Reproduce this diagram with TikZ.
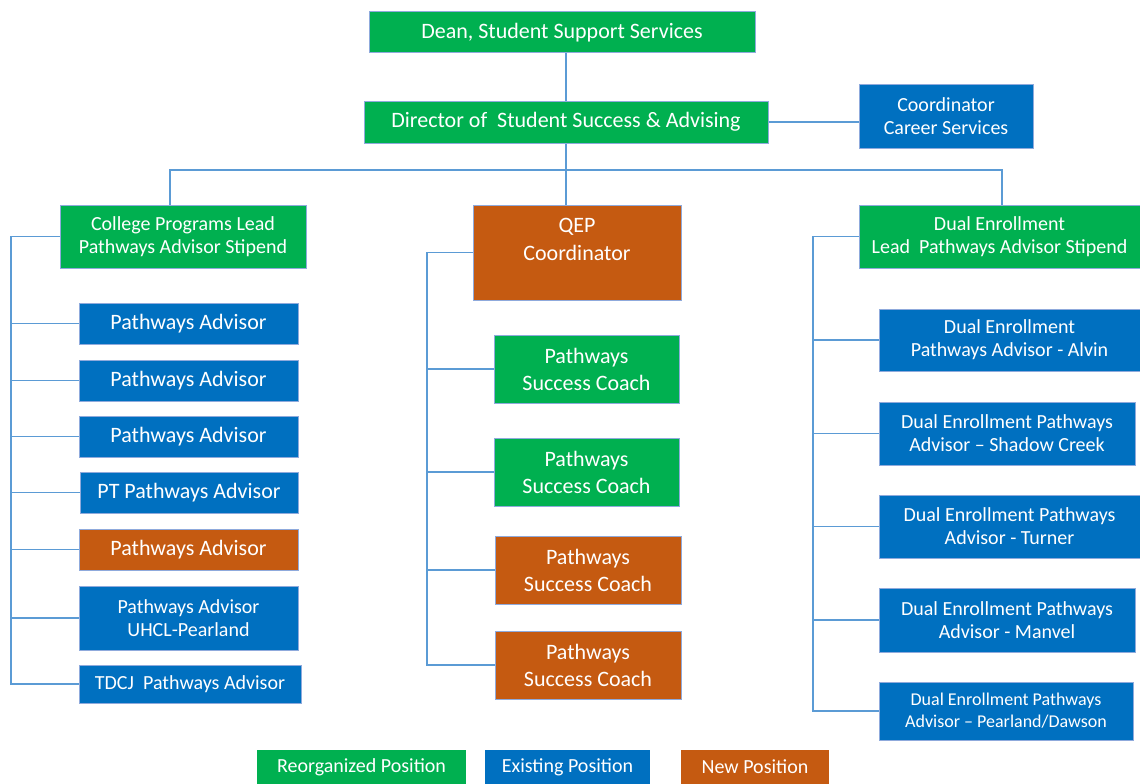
\documentclass[tikz,border=0pt]{standalone}
\usepackage{fontspec}
\setmainfont{Carlito}
\usepackage{xcolor}
\usetikzlibrary{positioning,calc}
\definecolor{PosGreen}{HTML}{00B050}
\definecolor{PosBlue}{HTML}{0070C0}
\definecolor{PosOrange}{HTML}{C55A11}
\definecolor{EdgeBlue}{HTML}{8FAADC}
\definecolor{LinkBlue}{HTML}{5B9BD5}

\begin{document}
\begin{tikzpicture}[x=1pt, y=-1pt,
  post/.style={rectangle, draw=EdgeBlue, line width=1pt, align=center,
               text=white, inner sep=2pt,
               font=\fontsize{22}{23.5}\selectfont},
  small/.style={font=\fontsize{20}{23}\selectfont},
  reorg/.style={post, fill=PosGreen},
  exist/.style={post, fill=PosBlue},
  newpos/.style={post, fill=PosOrange},
  coach/.style={minimum width=186pt, minimum height=68pt,
                font=\fontsize{22}{27}\selectfont},
  legend/.style={rectangle, align=center, text=white, minimum height=34pt,
                 font=\fontsize{20}{23}\selectfont},
  link/.style={draw=LinkBlue, line width=1.2pt}
]
  \useasboundingbox (0,0) rectangle (1140,784);
  \fill[white] (0,0) rectangle (1140,784);

  \node[reorg, minimum width=386pt, minimum height=41pt] (dean) at (562,32.5)
        {Dean, Student Support Services};
  \node[reorg, minimum width=404pt, minimum height=42pt] (dir) at (566,122)
        {Director of\ \ Student Success \& Advising};
  \node[exist, small, minimum width=174pt, minimum height=64pt] (career) at (946,116)
        {Coordinator\\Career Services};

  \node[reorg, small, minimum width=246pt, minimum height=63pt] (cpl) at (183,236.5)
        {College Programs Lead\\Pathways Advisor Stipend};
  \node[newpos, minimum width=208pt, minimum height=95pt,
        font=\fontsize{22}{28}\selectfont] (qep) at (577,252.5)
        {QEP\\Coordinator\\[-1pt]\mbox{}};
  \node[reorg, small, minimum width=281pt, minimum height=63pt] (del) at (999.5,236.5)
        {Dual Enrollment\\Lead\ \ Pathways Advisor Stipend};

  \node[exist, minimum width=219pt, minimum height=41pt] (pa1) at (188.5,323.5)
        {Pathways Advisor};
  \node[exist, minimum width=219pt, minimum height=41pt] (pa2) at (188.5,380.5)
        {Pathways Advisor};
  \node[exist, minimum width=219pt, minimum height=41pt] (pa3) at (188.5,436.5)
        {Pathways Advisor};
  \node[exist, minimum width=218pt, minimum height=41pt] (pa4) at (189,492.5)
        {PT Pathways Advisor};
  \node[newpos, minimum width=219pt, minimum height=41pt] (pa5) at (188.5,549.5)
        {Pathways Advisor};
  \node[exist, small, minimum width=219pt, minimum height=64pt] (pa6) at (188.5,618)
        {Pathways Advisor\\UHCL-Pearland};
  \node[exist, small, minimum width=222pt, minimum height=38pt] (pa7) at (190,684)
        {TDCJ\ \ Pathways Advisor};

  \node[reorg, coach, minimum width=185pt] (psc1) at (586.5,369)
        {Pathways\\Success Coach};
  \node[reorg, coach, minimum width=185pt] (psc2) at (586.5,472)
        {Pathways\\Success Coach};
  \node[newpos, coach] (psc3) at (588,570)
        {Pathways\\Success Coach};
  \node[newpos, coach] (psc4) at (588,665)
        {Pathways\\Success Coach};

  \node[exist, small, minimum width=261pt, minimum height=62pt] (dea1) at (1009.5,340)
        {Dual Enrollment\\Pathways Advisor - Alvin};
  \node[exist, small, minimum width=256pt, minimum height=63pt] (dea2) at (1007,433.5)
        {Dual Enrollment Pathways\\Advisor -- Shadow Creek};
  \node[exist, small, minimum width=261pt, minimum height=63pt] (dea3) at (1009.5,526.5)
        {Dual Enrollment Pathways\\Advisor - Turner};
  \node[exist, small, minimum width=256pt, minimum height=64pt] (dea4) at (1007,620)
        {Dual Enrollment Pathways\\Advisor - Manvel};
  \node[exist, minimum width=254pt, minimum height=58pt,
        font=\fontsize{18}{22}\selectfont] (dea5) at (1006,711)
        {Dual Enrollment Pathways\\Advisor -- Pearland/Dawson};

  \node[legend, fill=PosGreen, minimum width=209pt] (keyreorg) at (361.5,767)
        {Reorganized Position};
  \node[legend, fill=PosBlue, minimum width=165pt] (keyexist) at (567.5,767)
        {Existing Position};
  \node[legend, fill=PosOrange, minimum width=148pt] (keynew) at (755,767)
        {New Position};

  \coordinate (busl) at (170,170);
  \coordinate (busr) at (1002,170);
  \coordinate (lspine) at (11,0);
  \coordinate (mspine) at (427,0);
  \coordinate (rspine) at (813,0);

  \draw[link] (dir.north) -- (dir.north |- dean.south);
  \draw[link] (dir.south) -- (dir.south |- qep.north);
  \draw[link] (dir.east) -- (dir.east -| career.west);
  \draw[link] (busl |- cpl.north) -- (busl) -- (busr) -- (busr |- del.north);

  \draw[link] (cpl.west) -- (cpl.west -| lspine) -- (lspine |- pa7.west) -- (pa7.west);
  \foreach \n in {pa1,pa2,pa3,pa4,pa5,pa6}
    \draw[link] (lspine |- \n.west) -- (\n.west);

  \draw[link] (qep.west) -- (qep.west -| mspine) -- (mspine |- psc4.west) -- (psc4.west);
  \foreach \n in {psc1,psc2,psc3}
    \draw[link] (mspine |- \n.west) -- (\n.west);

  \draw[link] (del.west) -- (del.west -| rspine) -- (rspine |- dea5.west) -- (dea5.west);
  \foreach \n in {dea1,dea2,dea3,dea4}
    \draw[link] (rspine |- \n.west) -- (\n.west);
\end{tikzpicture}
\end{document}
